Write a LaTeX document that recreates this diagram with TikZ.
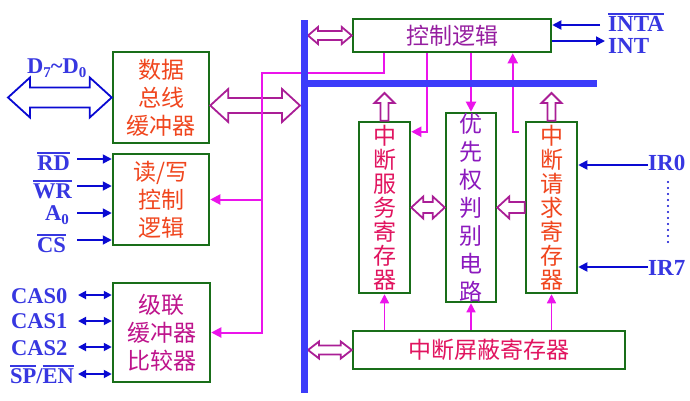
\documentclass[tikz,border=0pt]{standalone}
\usepackage{fontspec}
\setmainfont{Liberation Serif}
\newfontfamily\cjk{Noto Sans CJK SC}
\usetikzlibrary{calc,arrows.meta}

\definecolor{boxgreen}{RGB}{25,110,25}
\definecolor{busblue}{RGB}{60,60,250}
\definecolor{sigblue}{RGB}{10,10,210}
\definecolor{lblblue}{RGB}{55,55,225}
\definecolor{ctrlmag}{RGB}{235,20,235}
\definecolor{hollowpur}{RGB}{170,30,150}
\definecolor{txtorange}{RGB}{240,70,30}
\definecolor{txtcrimson}{RGB}{225,20,95}
\definecolor{txtpurple}{RGB}{140,25,190}
\definecolor{txtviolet}{RGB}{150,30,160}
\definecolor{txtmagenta}{RGB}{190,20,140}

% overlined signal name (active-low)
\newcommand\ovl[1]{\vbox{\hrule height 1.7pt\kern1.4pt\hbox{#1}}}
% lowered small index
\newcommand\idx[1]{\raisebox{-4.5pt}{\fontsize{15}{15}\selectfont #1}}

\tikzset{
  box/.style={draw=boxgreen, line width=2.5pt, fill=white, inner sep=0pt,
    align=center, font=\cjk\fontsize{23}{28}\selectfont},
  vtext/.style={font=\cjk\fontsize{23}{24}\selectfont},
  lbl/.style={text=lblblue, inner sep=0pt, font=\bfseries\fontsize{22.5}{22.5}\selectfont},
  rlbl/.style={lbl, font=\bfseries\fontsize{23}{23}\selectfont},
  sig/.style={draw=sigblue, line width=1.8pt, -{Triangle[length=9pt,width=9pt]}},
  sigboth/.style={draw=sigblue, line width=1.8pt,
    {Triangle[length=8pt,width=8pt]}-{Triangle[length=8pt,width=8pt]}},
  ctrl/.style={draw=ctrlmag, line width=2pt, -{Triangle[length=10pt,width=10pt]}},
  ctrlthin/.style={draw=ctrlmag, line width=1.4pt, -{Triangle[length=9pt,width=9pt]}},
  bus/.style={draw=busblue, line width=7pt},
  hollow/.style={draw=hollowpur, line width=1.8pt, fill=white, line join=miter},
  % horizontal hollow double arrow: #1 head length, #2 head half-width, #3 shaft half-width
  hdbl/.style n args={3}{to path={let \p1=(\tikztostart), \p2=(\tikztotarget) in
    (\x1,\y2) -- ({\x1+#1},{\y2+#2}) -- ({\x1+#1},{\y2+#3}) -- ({\x2-#1},{\y2+#3})
    -- ({\x2-#1},{\y2+#2}) -- (\x2,\y2) -- ({\x2-#1},{\y2-#2}) -- ({\x2-#1},{\y2-#3})
    -- ({\x1+#1},{\y2-#3}) -- ({\x1+#1},{\y2-#2}) -- cycle}},
  % hollow single arrow pointing left
  hleft/.style n args={3}{to path={let \p1=(\tikztostart), \p2=(\tikztotarget) in
    (\x1,{\y2+#3}) -- ({\x2+#1},{\y2+#3}) -- ({\x2+#1},{\y2+#2}) -- (\x2,\y2)
    -- ({\x2+#1},{\y2-#2}) -- ({\x2+#1},{\y2-#3}) -- (\x1,{\y2-#3}) -- cycle}},
  % hollow single arrow pointing up
  vup/.style n args={3}{to path={let \p1=(\tikztostart), \p2=(\tikztotarget) in
    ({\x1-#3},\y1) -- ({\x1-#3},{\y2-#1}) -- ({\x1-#2},{\y2-#1}) -- (\x1,\y2)
    -- ({\x1+#2},{\y2-#1}) -- ({\x1+#3},{\y2-#1}) -- ({\x1+#3},\y1) -- cycle}},
}

\begin{document}
\begin{tikzpicture}[x=1pt,y=-1pt]
\fill[white] (0,0) rectangle (690,400);
\useasboundingbox (0,0) rectangle (690,400);

% ---- functional blocks ----
\node[box, minimum width=96pt, minimum height=91pt, text=txtorange] (db) at (161,97.5) {数据\\总线\\缓冲器};
\node[box, minimum width=96pt, minimum height=91pt, text=txtorange] (rw) at (161,199.5) {读/写\\控制\\逻辑};
\node[box, minimum width=97pt, minimum height=99pt, text=txtmagenta] (cas) at (161.5,332.5) {级联\\缓冲器\\比较器};
\node[box, minimum width=198pt, minimum height=33pt, text=txtviolet] (ctl) at (452,35.5) {控制逻辑};
\node[box, vtext, minimum width=51pt, minimum height=171pt, text=txtcrimson] (isr) at (384.5,207.5) {中\\断\\服\\务\\寄\\存\\器};
\node[box, minimum width=50pt, minimum height=171pt, text=txtpurple] (pr) at (471,207.5) {优\\先\\权\\判\\别\\电\\路};
\node[box, vtext, minimum width=51pt, minimum height=171pt, text=txtorange] (irr) at (551.5,207.5) {中\\断\\请\\求\\寄\\存\\器};
\node[box, minimum width=272pt, minimum height=38pt, text=txtcrimson] (imr) at (489,350) {中断屏蔽寄存器};

% ---- bus reference points ----
\coordinate (vbtop) at (304.5,20);
\coordinate (vbbot) at (304.5,393);
\coordinate (hbleft) at (301,83.5);
\coordinate (hbright) at (597,83.5);
\coordinate (hblow) at (0,93);
\coordinate (busdb) at (300,105.5);
\coordinate (busctl) at (308,34.5);
\coordinate (busimr) at (308,350);
\coordinate (isrup) at (isr.north |- hblow);
\coordinate (irrup) at (irr.north |- hblow);
\coordinate (dleft) at (8,98);

% ---- wide (hollow) data paths ----
\draw[hollow, draw=sigblue] (dleft) to[hdbl={22pt}{20pt}{10pt}] (db.west);
\draw[hollow] (db.east) to[hdbl={18pt}{16.5pt}{7.5pt}] (busdb);
\draw[hollow] (busctl) to[hdbl={10pt}{8.5pt}{4.5pt}] (ctl.west);
\draw[hollow] (busimr) to[hdbl={11pt}{8.5pt}{4.5pt}] (imr.west);
\draw[hollow] (isr.east) to[hdbl={12pt}{11pt}{5.5pt}] (pr.west);
\draw[hollow] (irr.west) to[hleft={12pt}{11pt}{5.5pt}] (pr.east);
\draw[hollow] (isr.north) to[vup={10pt}{10pt}{4pt}] (isrup);
\draw[hollow] (irr.north) to[vup={10pt}{10pt}{4pt}] (irrup);

% ---- internal control lines ----
\coordinate (trunk) at (262,73);
\draw[ctrl] ($(ctl.south west)+(32,0)$) |- (trunk) |- (cas.east);
\draw[ctrl] (rw.east -| trunk) -- (rw.east);
\draw[ctrl] ($(ctl.south west)+(75,0)$) |- ($(isr.north east)+(0,11)$);
\draw[ctrl] (pr.north |- ctl.south) -- (pr.north);
\draw[ctrl] ($(irr.north west)+(-6,11)$) -| ($(ctl.south west)+(161,0)$);
\draw[ctrlthin] (isr.south |- imr.north) -- (isr.south);
\draw[ctrlthin] (pr.south |- imr.north) -- (pr.south);
\draw[ctrlthin] (irr.south |- imr.north) -- (irr.south);

% ---- internal bus ----
\draw[bus] (vbtop) -- (vbbot);
\draw[bus] (hbleft) -- (hbright);

% ---- external signals ----
\node[lbl, anchor=base west] (ld) at (27,73) {D\idx{7}\textasciitilde D\idx{0}};

\coordinate (rdin) at (77,159);
\coordinate (wrin) at (77,186);
\coordinate (a0in) at (77,213);
\coordinate (csin) at (77,240);
\draw[sig] (rdin) -- (rdin -| rw.west);
\draw[sig] (wrin) -- (wrin -| rw.west);
\draw[sig] (a0in) -- (a0in -| rw.west);
\draw[sig] (csin) -- (csin -| rw.west);
\node[lbl, anchor=base east] (lrd) at (70,170) {\ovl{RD}};
\node[lbl, anchor=base east] (lwr) at (72,198) {\ovl{WR}};
\node[lbl, anchor=base east] (la0) at (69,220) {A\idx{0}};
\node[lbl, anchor=base east] (lcs) at (66,252) {\ovl{CS}};

\coordinate (cas0) at (78,295);
\coordinate (cas1) at (78,321);
\coordinate (cas2) at (78,347);
\coordinate (spen) at (78,374);
\draw[sigboth] (cas0) -- (cas0 -| cas.west);
\draw[sigboth] (cas1) -- (cas1 -| cas.west);
\draw[sigboth] (cas2) -- (cas2 -| cas.west);
\draw[sigboth] (spen) -- (spen -| cas.west);
\node[lbl, anchor=base west] (lc0) at (11,303) {CAS0};
\node[lbl, anchor=base west] (lc1) at (11,328) {CAS1};
\node[lbl, anchor=base west] (lc2) at (11,355) {CAS2};
\node[lbl, anchor=base west] (lse) at (10,383) {\ovl{SP}/\ovl{EN}};

\coordinate (intain) at (600,25);
\coordinate (intout) at (605,41);
\draw[sig] (intain) -- (intain -| ctl.east);
\draw[sig] (intout -| ctl.east) -- (intout);
\node[rlbl, anchor=base west, text depth=0pt] (linta) at (608,31.5) {\ovl{INTA}};
\node[rlbl, anchor=base west] (lint) at (608,53) {INT};

\coordinate (ir0in) at (648,165);
\coordinate (ir7in) at (648,267);
\draw[sig] (ir0in) -- (ir0in -| irr.east);
\draw[sig] (ir7in) -- (ir7in -| irr.east);
\node[rlbl, anchor=base west] (lir0) at (648,170) {IR0};
\node[rlbl, anchor=base west] (lir7) at (648,275) {IR7};
\coordinate (dottop) at (668,182);
\coordinate (dotbot) at (668,243);
\draw[sigblue, line width=2.3pt, line cap=round, dash pattern=on 0pt off 6pt] (dottop) -- (dotbot);
\end{tikzpicture}
\end{document}
